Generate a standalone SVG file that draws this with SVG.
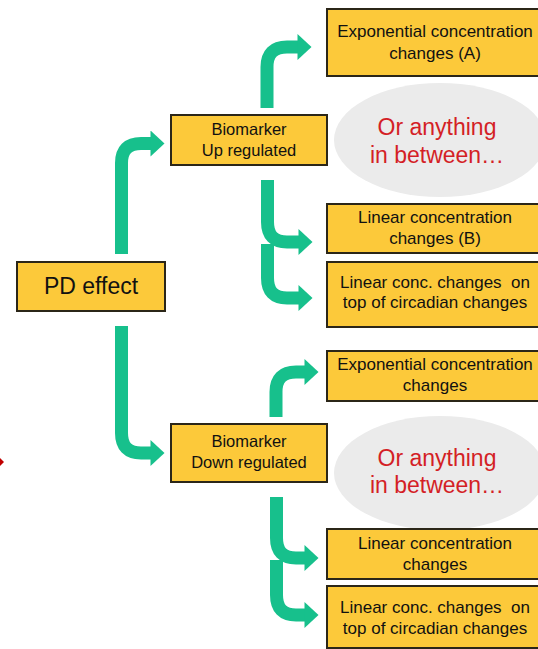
<svg xmlns="http://www.w3.org/2000/svg" width="538" height="649" viewBox="0 0 538 649">
<defs>
<style>
.box{fill:#fcc93a;stroke:#2b2618;stroke-width:2}
.t{font-family:"Liberation Sans",Arial,sans-serif;font-size:16.5px;fill:#111;text-anchor:middle;white-space:pre}
.r{font-size:17px}
.big{font-size:23px}
.or{font-family:"Liberation Sans",Arial,sans-serif;font-size:23px;fill:#d41f26;text-anchor:middle}
.ell{fill:#ebebeb}
.arr{fill:none;stroke:#17c08c;stroke-width:13;marker-end:url(#head)}
</style>
<marker id="head" markerUnits="strokeWidth" markerWidth="1.08" markerHeight="2" viewBox="0 0 14 26" refX="0.5" refY="13" orient="auto">
<path d="M0,0 L14,13 L0,26 z" fill="#17c08c"/>
</marker>
</defs>
<rect width="538" height="649" fill="#fff"/>
<path d="M0,458 L4,462 L0,466 L-4,462 z" fill="#c00000"/>
<g id="connectors">
<path class="arr" d="M121.5,254 V163 Q121.5,143.5 141,143.5 H151"/>
<path class="arr" d="M121.5,326 V433 Q121.5,453 141,453 H151"/>
<path class="arr" d="M267,108 V67 Q267,47 287,47 H298"/>
<path class="arr" d="M267.5,180 V222 Q267.5,242 287,242 H299"/>
<path class="arr" d="M267.5,244 V278 Q267.5,298 287,298 H299"/>
<path class="arr" d="M276,417 V392 Q276,372 296,372 H305"/>
<path class="arr" d="M276.5,497 V538 Q276.5,558 296,558 H305"/>
<path class="arr" d="M276.5,560 V595 Q276.5,615 296,615 H305"/>
</g>
<g id="pd">
<rect class="box" x="17" y="262" width="148" height="49"/>
<text class="t big" x="91" y="294">PD effect</text>
</g>
<g id="bm-up">
<rect class="box" x="171" y="115" width="156" height="50"/>
<text class="t" x="249" y="135">Biomarker</text>
<text class="t" x="249" y="156">Up regulated</text>
</g>
<g id="bm-down">
<rect class="box" x="171" y="424" width="156" height="58"/>
<text class="t" x="249" y="447">Biomarker</text>
<text class="t" x="249" y="468">Down regulated</text>
</g>
<g id="exp-a">
<rect class="box" x="327" y="9" width="215" height="67"/>
<text class="t r" x="435" y="37">Exponential concentration</text>
<text class="t r" x="435" y="59">changes (A)</text>
</g>
<g id="between-up">
<ellipse class="ell" cx="440" cy="140" rx="106" ry="57"/>
<text class="or" x="437" y="135">Or anything</text>
<text class="or" x="437" y="163">in between…</text>
</g>
<g id="lin-b">
<rect class="box" x="327" y="204" width="215" height="49"/>
<text class="t r" x="435" y="223">Linear concentration</text>
<text class="t r" x="435" y="244">changes (B)</text>
</g>
<g id="circ-up">
<rect class="box" x="327" y="262" width="215" height="65"/>
<text class="t r" x="435" y="288" xml:space="preserve">Linear conc. changes  on</text>
<text class="t r" x="435" y="308">top of circadian changes</text>
</g>
<g id="exp-down">
<rect class="box" x="327" y="351" width="215" height="50"/>
<text class="t r" x="435" y="370">Exponential concentration</text>
<text class="t r" x="435" y="391">changes</text>
</g>
<g id="between-down">
<ellipse class="ell" cx="440" cy="473" rx="106" ry="57"/>
<text class="or" x="437" y="466">Or anything</text>
<text class="or" x="437" y="493">in between…</text>
</g>
<g id="lin-down">
<rect class="box" x="327" y="529" width="215" height="50"/>
<text class="t r" x="435" y="549">Linear concentration</text>
<text class="t r" x="435" y="570">changes</text>
</g>
<g id="circ-down">
<rect class="box" x="327" y="586" width="215" height="62"/>
<text class="t r" x="435" y="613" xml:space="preserve">Linear conc. changes  on</text>
<text class="t r" x="435" y="634">top of circadian changes</text>
</g>
</svg>
